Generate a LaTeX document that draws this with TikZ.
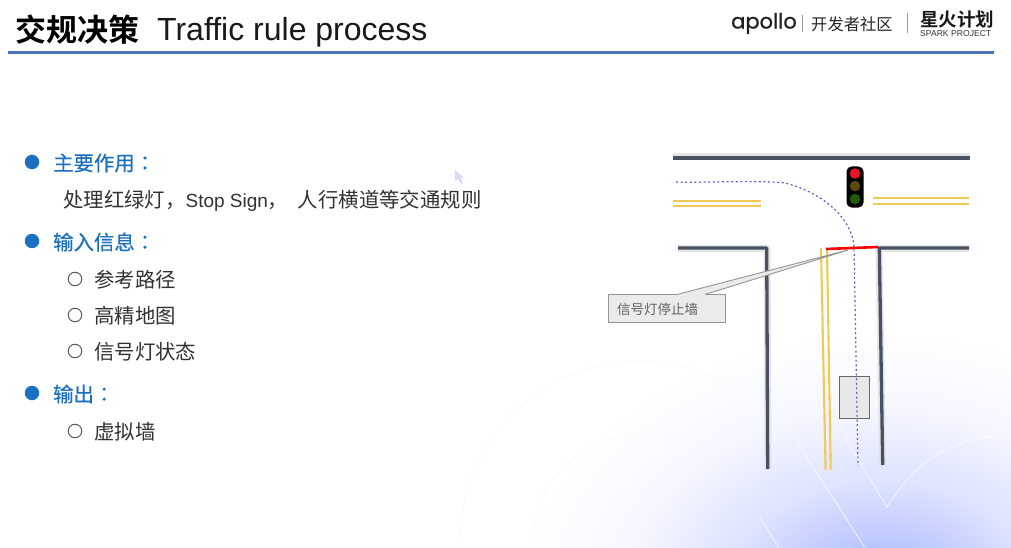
\documentclass[tikz,border=0pt]{standalone}
\usepackage{fontspec}
\setmainfont{Liberation Sans}
\newfontfamily\cjk{Noto Sans CJK SC}
\newfontfamily\cjkb{Noto Sans CJK SC Bold}
\newfontfamily\cjkm[FakeBold=0.35]{Noto Sans CJK SC}
\newfontfamily\cjktc[FakeBold=0.35]{Noto Sans CJK TC}
\newfontfamily\logofont[FakeBold=0.8]{Poppins}
\usetikzlibrary{calc}
\definecolor{blueb}{RGB}{28,112,192}
\definecolor{rule}{RGB}{75,115,185}
\definecolor{road}{RGB}{72,82,100}
\definecolor{lane}{RGB}{244,200,85}
\definecolor{path}{RGB}{95,95,205}
\definecolor{bodytext}{RGB}{50,50,50}
\definecolor{lightA}{RGB}{186,198,255}
\definecolor{lightB}{RGB}{222,227,255}
\definecolor{lightC}{RGB}{246,247,255}
\pgfdeclareradialshading{softglow}{\pgfpointorigin}{
  color(0bp)=(lightA); color(5bp)=(lightA); color(11bp)=(lightB); color(18bp)=(lightC); color(25bp)=(white); color(50bp)=(white)}
\tikzset{
  x=1pt,y=-1pt,
  heading/.style={anchor=west,text=blueb,font=\cjkm\fontsize{20.4}{20.4}\selectfont,inner sep=0pt},
  bodyt/.style={anchor=west,text=bodytext,font=\cjk\fontsize{20.4}{20.4}\selectfont,inner sep=0pt},
  bullet/.style={circle,fill=blueb,minimum size=14.5pt,inner sep=0pt},
  ring/.style={circle,draw=black!65,line width=1pt,minimum size=13.5pt,inner sep=0pt},
  roadline/.style={draw=road,line width=3.3pt,line join=round},
  roadshadow/.style={draw=black!10,line width=7pt,line join=round},
  laneline/.style={draw=lane,line width=2.1pt},
  bgline/.style={draw=white,line width=1pt,opacity=.65},
  bgarc/.style={draw=black!2,line width=.9pt},
  lamp/.style={circle,minimum size=10.5pt,inner sep=0pt}
}
\begin{document}
\begin{tikzpicture}
\useasboundingbox (0,0) rectangle (1011,548);
\fill[white] (0,0) rectangle (1011,548);
\begin{scope}
\clip (0,0) rectangle (1011,548);
\shade[shading=softglow] (880,600) ellipse (360 and 270);
\draw[bgarc] (460,541) arc (180:310:180);
\draw[bgarc] (533,542) arc (180:305:107);
\draw[bgline] (797,442) -- (865,548);
\draw[bgline] (760,518) -- (779,548);
\draw[bgline] (855,428) -- (845,438) -- (887,507) .. controls (915,462) and (950,436) .. (1011,436);
\end{scope}
% header
\node[anchor=west,inner sep=0pt,font=\cjkb\fontsize{31}{31}\selectfont,text=black] (ttlcn) at (15,30) {交规决策};
\node[anchor=west,inner sep=0pt,font=\fontsize{32}{32}\selectfont,text=black!90] (ttlen) at (157,32) {Traffic rule process};
\fill[rule] (8,51.5) rectangle (994,54);
\node[anchor=west,inner sep=0pt,font=\logofont\fontsize{21}{21}\selectfont,text=black!88] (apollo) at (731,23.5) {apollo};
\draw[black!40,line width=.8pt] (802,15) -- (802,32);
\node[anchor=west,inner sep=0pt,font=\cjk\fontsize{16.3}{16.3}\selectfont,text=black!85] (dev) at (811,24.5) {开发者社区};
\draw[black!40,line width=.8pt] (907,13) -- (907,33);
\node[anchor=west,inner sep=0pt,font=\cjkb\fontsize{18.5}{18.5}\selectfont,text=black!90] (spark) at (920,20) {星火计划};
\node[anchor=west,inner sep=0pt,font=\fontsize{8.6}{8.6}\selectfont,text=black!80] (sparken) at (920,33.5) {SPARK PROJECT};
% cursor
\fill[black!22!blue!15] (455,170) -- (455,181) -- (458,179) -- (461,184) -- (463,183) -- (460.5,178) -- (463.5,177.5) -- cycle;
% left text
\node[bullet] (b1) at (32,162) {};
\node[heading] (h1) at (53,163) {主要作用{\cjktc ：}};
\node[bodyt] (t1) at (63,200.5) {处理红绿灯，{\normalfont\fontsize{19}{19}\selectfont Stop Sign}， \hspace{5pt}人行横道等交通规则};
\node[bullet] (b2) at (32,241) {};
\node[heading] (h2) at (53,242) {输入信息{\cjktc ：}};
\node[ring] (r1) at (75,279) {};
\node[bodyt] (i1) at (94,280) {参考路径};
\node[ring] (r2) at (75,315) {};
\node[bodyt] (i2) at (94,316) {高精地图};
\node[ring] (r3) at (75,351) {};
\node[bodyt] (i3) at (94,352) {信号灯状态};
\node[bullet] (b3) at (32,393) {};
\node[heading] (h3) at (53,394) {输出{\cjktc ：}};
\node[ring] (r4) at (75,431) {};
\node[bodyt] (o1) at (94,432) {虚拟墙};
% road shadows
\draw[roadshadow] (673,157) -- (970,157);
\draw[roadshadow] (678,248.5) -- (767,248.5) -- (768,469);
\draw[roadshadow] (969,248.5) -- (879,248.5) -- (882.5,465);
% roads
\draw[roadline] (673,158) -- (970,158);
\draw[roadline] (678,248) -- (766.7,248) -- (767.7,469);
\draw[roadline] (969,248) -- (879.3,248) -- (882.7,465);
% lanes
\draw[laneline] (673,200.7) -- (761,200.7);
\draw[laneline] (673,206.3) -- (761,206.3);
\draw[laneline] (873,197.7) -- (969,197.7);
\draw[laneline] (873,203.7) -- (969,203.7);
\draw[laneline] (821,248) -- (825.6,470);
\draw[laneline] (827,248) -- (830.7,470);
% traffic light
\node[fill=black,rounded corners=5pt,minimum width=17pt,minimum height=41pt,inner sep=0pt] (tl) at (855,187) {};
\node[lamp,fill={rgb,255:red,235;green,20;blue,35}] (lr) at (855,173.5) {};
\node[lamp,fill={rgb,255:red,92;green,72;blue,14}] (ly) at (855,186) {};
\node[lamp,fill={rgb,255:red,32;green,92;blue,14}] (lg) at (855,199) {};
% car
\node[draw=black!60,fill=black!9,line width=.9pt,minimum width=30pt,minimum height=42pt,inner sep=0pt] (car) at (854.5,397.5) {};
% path
\coordinate (p0) at (676,182);
\coordinate (p1) at (854,245);
\coordinate (p2) at (858,466);
\draw[path,dash pattern=on 2pt off 2.6pt,line width=1.2pt] (p0) .. controls (700,183) and (760,180) .. (785,183) .. controls (820,192) and (850,215) .. (p1) -- (p2);
% stop wall
\coordinate (w1) at (826,249);
\coordinate (w2) at (878,247);
\draw[red,line width=2.6pt] (w1) -- (w2);
% callout
\node[draw=black!42,fill=black!8,line width=.9pt,minimum width=117pt,minimum height=28.5pt,inner sep=0pt] (call) at (666.5,308.5) {};
\node[anchor=west,inner sep=0pt,text=black!62,font=\cjk\fontsize{13.5}{13.5}\selectfont] (calltext) at (617,309) {信号灯停止墙};
\coordinate (tip) at (848,250);
\coordinate (ca) at (678,294.2);
\coordinate (cb) at (706,294.2);
\path[fill=black!8,draw=black!42,line width=.9pt] (ca) -- (tip) -- (cb);
\fill[black!8] (679,293.5) rectangle (705.3,295);
\end{tikzpicture}
\end{document}
